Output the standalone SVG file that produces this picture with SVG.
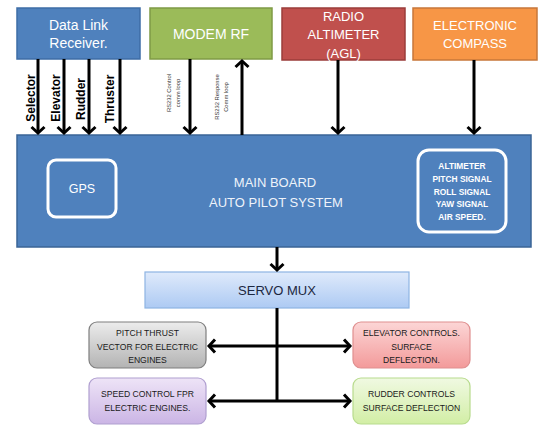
<svg xmlns="http://www.w3.org/2000/svg" width="550" height="440" viewBox="0 0 550 440">
<defs>
<style>
.t{font-family:"Liberation Sans",Arial,sans-serif}
.w{fill:#ffffff}
.wl{fill:#eef3fa}
.lbl{font-family:"Liberation Sans",Arial,sans-serif;font-weight:bold;font-size:12px;fill:#000}
.rs{font-family:"Liberation Sans",Arial,sans-serif;font-size:5.8px;fill:#333}
.sm{font-family:"Liberation Sans",Arial,sans-serif;font-size:8.6px;fill:#1a1a1a}
.ln{stroke:#000;stroke-width:3;fill:none}
.in{fill:none;stroke:#ffffff;stroke-width:3}
</style>
<marker id="ah" markerUnits="userSpaceOnUse" viewBox="-10 -10 20 20" markerWidth="20" markerHeight="20" refX="0" refY="0" orient="auto" overflow="visible">
<path d="M-6,-6.5 L0,0 L-6,6.5" fill="none" stroke="#000" stroke-width="3"/>
</marker>
<linearGradient id="gServo" x1="0" y1="0" x2="0" y2="1"><stop offset="0" stop-color="#dfeafb"/><stop offset="1" stop-color="#adcaf3"/></linearGradient>
<linearGradient id="gGray" x1="0" y1="0" x2="0" y2="1"><stop offset="0" stop-color="#ececec"/><stop offset="1" stop-color="#b3b3b3"/></linearGradient>
<linearGradient id="gRed" x1="0" y1="0" x2="0" y2="1"><stop offset="0" stop-color="#fcd6d6"/><stop offset="1" stop-color="#f39a9a"/></linearGradient>
<linearGradient id="gPur" x1="0" y1="0" x2="0" y2="1"><stop offset="0" stop-color="#eee4f7"/><stop offset="1" stop-color="#cbb5e5"/></linearGradient>
<linearGradient id="gGrn" x1="0" y1="0" x2="0" y2="1"><stop offset="0" stop-color="#f0f9e2"/><stop offset="1" stop-color="#d2eea5"/></linearGradient>
</defs>
<rect width="550" height="440" fill="#ffffff"/>

<g id="datalink">
<rect x="17" y="8" width="123" height="51" fill="#4f81bd" stroke="#3e6da6" stroke-width="1.5"/>
<text class="t w" x="78.5" y="30" font-size="14" text-anchor="middle">Data Link</text>
<text class="t w" x="78.5" y="48" font-size="14" text-anchor="middle">Receiver.</text>
</g>
<g id="modem">
<rect x="150" y="8" width="122" height="51" fill="#9bbb59" stroke="#7f9b45" stroke-width="1.5"/>
<text class="t w" x="211" y="39" font-size="14" text-anchor="middle">MODEM RF</text>
</g>
<g id="radio">
<rect x="282" y="8" width="123" height="52" fill="#c0504d" stroke="#9b3c3a" stroke-width="1.5"/>
<text class="t w" x="343.5" y="21" font-size="13" text-anchor="middle">RADIO</text>
<text class="t w" x="343.5" y="39" font-size="13" text-anchor="middle">ALTIMETER</text>
<text class="t w" x="343.5" y="58" font-size="13" text-anchor="middle">(AGL)</text>
</g>
<g id="compass">
<rect x="413" y="8" width="124" height="52" fill="#f79646" stroke="#c7773a" stroke-width="1.5"/>
<text class="t w" x="475" y="30" font-size="13" text-anchor="middle">ELECTRONIC</text>
<text class="t w" x="475" y="48" font-size="13" text-anchor="middle">COMPASS</text>
</g>

<g id="mainboard">
<rect x="17" y="135" width="514" height="112" fill="#4f81bd" stroke="#3a6496" stroke-width="1.5"/>
<text class="t wl" x="275" y="187" font-size="13" text-anchor="middle">MAIN BOARD</text>
<text class="t wl" x="276" y="207" font-size="13" text-anchor="middle">AUTO PILOT SYSTEM</text>
</g>
<g id="gps">
<rect x="48" y="160" width="68" height="57" rx="8" class="in"/>
<text class="t w" x="82" y="193" font-size="12.5" text-anchor="middle">GPS</text>
</g>
<g id="sensors">
<rect x="418" y="150" width="88" height="82" rx="11" class="in"/>
<g class="t w" font-size="8.4" font-weight="bold" text-anchor="middle">
<text x="462" y="169">ALTIMETER</text>
<text x="462" y="182">PITCH SIGNAL</text>
<text x="462" y="194.5">ROLL SIGNAL</text>
<text x="462" y="207">YAW SIGNAL</text>
<text x="462" y="220">AIR SPEED.</text>
</g>
</g>

<g id="servomux">
<rect x="145" y="272" width="264" height="36" fill="url(#gServo)" stroke="#8eb4e3" stroke-width="1.2"/>
<text class="t" x="277" y="295" font-size="13" fill="#1c2740" text-anchor="middle">SERVO MUX</text>
</g>
<g id="pitch">
<rect x="89" y="322" width="117" height="46" rx="8" fill="url(#gGray)" stroke="#7f7f7f" stroke-width="1.2"/>
<text class="sm" x="147.5" y="336" text-anchor="middle">PITCH THRUST</text>
<text class="sm" x="147.5" y="349.5" text-anchor="middle">VECTOR FOR ELECTRIC</text>
<text class="sm" x="147.5" y="363" text-anchor="middle">ENGINES</text>
</g>
<g id="speed">
<rect x="89" y="378" width="117" height="46" rx="8" fill="url(#gPur)" stroke="#b09fd0" stroke-width="1.2"/>
<text class="sm" x="147.5" y="397" text-anchor="middle">SPEED CONTROL FPR</text>
<text class="sm" x="147.5" y="411" text-anchor="middle">ELECTRIC ENGINES.</text>
</g>
<g id="elevator">
<rect x="353" y="322" width="117" height="46" rx="8" fill="url(#gRed)" stroke="#df8f8f" stroke-width="1.2"/>
<text class="sm" x="411.5" y="336" text-anchor="middle">ELEVATOR CONTROLS.</text>
<text class="sm" x="411.5" y="349.5" text-anchor="middle">SURFACE</text>
<text class="sm" x="411.5" y="363" text-anchor="middle">DEFLECTION.</text>
</g>
<g id="rudder">
<rect x="353" y="378" width="117" height="46" rx="8" fill="url(#gGrn)" stroke="#b8db8d" stroke-width="1.2"/>
<text class="sm" x="411.5" y="397" text-anchor="middle">RUDDER CONTROLS</text>
<text class="sm" x="411.5" y="411" text-anchor="middle">SURFACE DEFLECTION</text>
</g>

<g id="connectors">
<line class="ln" x1="38" y1="59" x2="38" y2="133" marker-end="url(#ah)"/>
<line class="ln" x1="64" y1="59" x2="64" y2="133" marker-end="url(#ah)"/>
<line class="ln" x1="89" y1="59" x2="89" y2="133" marker-end="url(#ah)"/>
<line class="ln" x1="120" y1="59" x2="120" y2="133" marker-end="url(#ah)"/>
<line class="ln" x1="190" y1="59" x2="190" y2="133" marker-end="url(#ah)"/>
<line class="ln" x1="242" y1="135" x2="242" y2="61" marker-end="url(#ah)"/>
<line class="ln" x1="338" y1="60" x2="338" y2="133" marker-end="url(#ah)"/>
<line class="ln" x1="474" y1="60" x2="474" y2="133" marker-end="url(#ah)"/>
<line class="ln" x1="277" y1="247" x2="277" y2="270" marker-end="url(#ah)"/>
<line class="ln" x1="277" y1="308" x2="277" y2="402"/>
<line class="ln" x1="277" y1="346" x2="209" y2="346" marker-end="url(#ah)"/>
<line class="ln" x1="277" y1="346" x2="350" y2="346" marker-end="url(#ah)"/>
<line class="ln" x1="277" y1="401" x2="209" y2="401" marker-end="url(#ah)"/>
<line class="ln" x1="277" y1="401" x2="350" y2="401" marker-end="url(#ah)"/>
<text class="lbl" transform="translate(35,98) rotate(-90)" text-anchor="middle">Selector</text>
<text class="lbl" transform="translate(60,98) rotate(-90)" text-anchor="middle">Elevator</text>
<text class="lbl" transform="translate(85,99) rotate(-90)" text-anchor="middle">Rudder</text>
<text class="lbl" transform="translate(114,99) rotate(-90)" text-anchor="middle" font-weight="normal">Thruster</text>
<text class="rs" transform="translate(171,93) rotate(-90)" text-anchor="middle">RS232 Control</text>
<text class="rs" transform="translate(180,93) rotate(-90)" text-anchor="middle">comm loop</text>
<text class="rs" transform="translate(219,97) rotate(-90)" text-anchor="middle">RS232 Response</text>
<text class="rs" transform="translate(228,97) rotate(-90)" text-anchor="middle">Comm loop</text>
</g>
</svg>
